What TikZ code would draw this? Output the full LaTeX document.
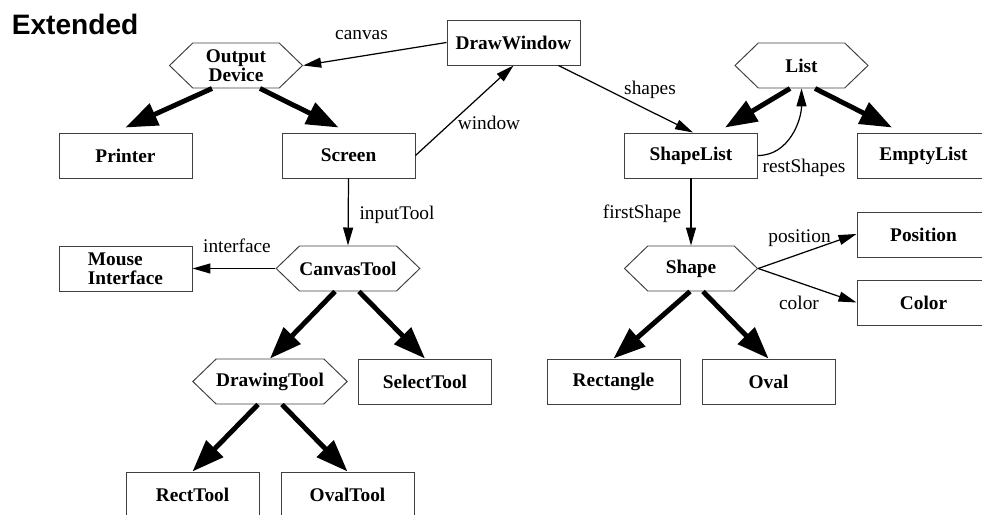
\documentclass[tikz,border=0pt]{standalone}
\usepackage{fontspec}
\setmainfont{Liberation Serif}
\newfontfamily\headfont{Liberation Sans}
\usepackage{tikz}
\usetikzlibrary{shapes.symbols,arrows.meta,positioning}

\begin{document}
\begin{tikzpicture}[
    % Classes
    classbox/.style={rectangle, draw=black!75, line width=0.55pt, minimum width=2.66cm, minimum height=0.9cm, inner sep=0pt, align=center, font=\fontsize{11}{10.5}\selectfont\bfseries},
    abstractclass/.style={signal, signal to=east and west, signal pointer angle=88, draw=black!75, line width=0.55pt, minimum width=2.66cm, minimum height=0.9cm, inner sep=0pt, align=center, font=\fontsize{11}{10.5}\selectfont\bfseries},
    % Connectors
    assoc/.style={-{Triangle[length=0.36cm, width=0.2cm]}, line width=0.7pt},
    inherit/.style={-{Triangle[length=0.64cm, width=0.46cm]}, line width=2.8pt},
    rolelabel/.style={font=\fontsize{11}{13}\selectfont, inner sep=0pt, anchor=base}
]
\useasboundingbox (0,0) rectangle (19.64,10.28);

% Title
\node[font=\headfont\fontsize{16}{18}\selectfont\bfseries, inner sep=0pt, anchor=base west] (title) at (0.23, 9.58) {Extended};

% Window and output devices
\node[classbox] (drawwindow) at (10.27, 9.43) {DrawWindow};
\node[abstractclass] (outputdevice) at (4.72, 8.97) {Output\\Device};
\node[classbox] (printer) at (2.51, 7.17) {Printer};
\node[classbox] (screen) at (6.97, 7.17) {Screen};

% Tools
\node[abstractclass] (canvastool) at (6.96, 4.91) {CanvasTool};
\node[classbox, align=left, font=\fontsize{11}{11}\selectfont\bfseries] (mouseinterface) at (2.51, 4.91) {Mouse\\Interface};
\node[abstractclass] (drawingtool) at (5.40, 2.65) {DrawingTool};
\node[classbox] (selecttool) at (8.50, 2.65) {SelectTool};
\node[classbox] (recttool) at (3.85, 0.39) {RectTool};
\node[classbox] (ovaltool) at (6.95, 0.39) {OvalTool};

% Shapes and lists
\node[abstractclass] (list) at (16.03, 8.97) {List};
\node[classbox] (shapelist) at (13.82, 7.17) {ShapeList};
\node[classbox] (emptylist) at (18.47, 7.17) {EmptyList};
\node[abstractclass] (shape) at (13.82, 4.91) {Shape};
\node[classbox] (position) at (18.47, 5.59) {Position};
\node[classbox] (color) at (18.47, 4.23) {Color};
\node[classbox] (rectangle) at (12.27, 2.65) {Rectangle};
\node[classbox] (oval) at (15.37, 2.65) {Oval};

% Inheritance
\draw[inherit] ([xshift=-0.48cm]outputdevice.south) -- ([yshift=0.1cm]printer.north);
\draw[inherit] ([xshift=0.48cm]outputdevice.south) -- ([xshift=-0.2cm, yshift=0.1cm]screen.north);
\draw[inherit] ([xshift=-0.23cm]list.south) -- ([xshift=0.68cm, yshift=0.1cm]shapelist.north);
\draw[inherit] ([xshift=0.27cm]list.south) -- ([xshift=-0.63cm, yshift=0.1cm]emptylist.north);
\draw[inherit] ([xshift=-0.26cm]canvastool.south) -- (drawingtool.north);
\draw[inherit] ([xshift=0.22cm]canvastool.south) -- (selecttool.north);
\draw[inherit] ([xshift=-0.24cm]drawingtool.south) -- (recttool.north);
\draw[inherit] ([xshift=0.24cm]drawingtool.south) -- (ovaltool.north);
\draw[inherit] ([xshift=-0.02cm]shape.south) -- (rectangle.north);
\draw[inherit] ([xshift=0.24cm]shape.south) -- (oval.north);

% Associations
\draw[assoc] (drawwindow.west) -- (outputdevice.east);
\draw[assoc] (screen.east) -- (drawwindow.south);
\draw[assoc] ([xshift=0.9cm]drawwindow.south) -- ([xshift=0.04cm]shapelist.north);
\draw[assoc] (shapelist.east) to[out=0, in=-90] (list.south);
\draw[assoc] (screen.south) -- (canvastool.north);
\draw[assoc] (canvastool.west) -- (mouseinterface.east);
\draw[assoc] (shapelist.south) -- (shape.north);
\draw[assoc] (shape.east) -- ([yshift=0.01cm]position.west);
\draw[assoc] (shape.east) -- (color.west);

% Role labels
\node[rolelabel] (lblcanvas) at (7.23, 9.48) {canvas};
\node[rolelabel] (lblwindow) at (9.78, 7.68) {window};
\node[rolelabel] (lblshapes) at (13.00, 8.38) {shapes};
\node[rolelabel] (lblrest) at (16.08, 6.82) {restShapes};
\node[rolelabel] (lblinput) at (7.94, 5.88) {inputTool};
\node[rolelabel] (lblinterface) at (4.74, 5.22) {interface};
\node[rolelabel] (lblfirst) at (12.84, 5.90) {firstShape};
\node[rolelabel] (lblposition) at (15.99, 5.42) {position};
\node[rolelabel] (lblcolor) at (15.98, 4.08) {color};

\end{tikzpicture}
\end{document}
